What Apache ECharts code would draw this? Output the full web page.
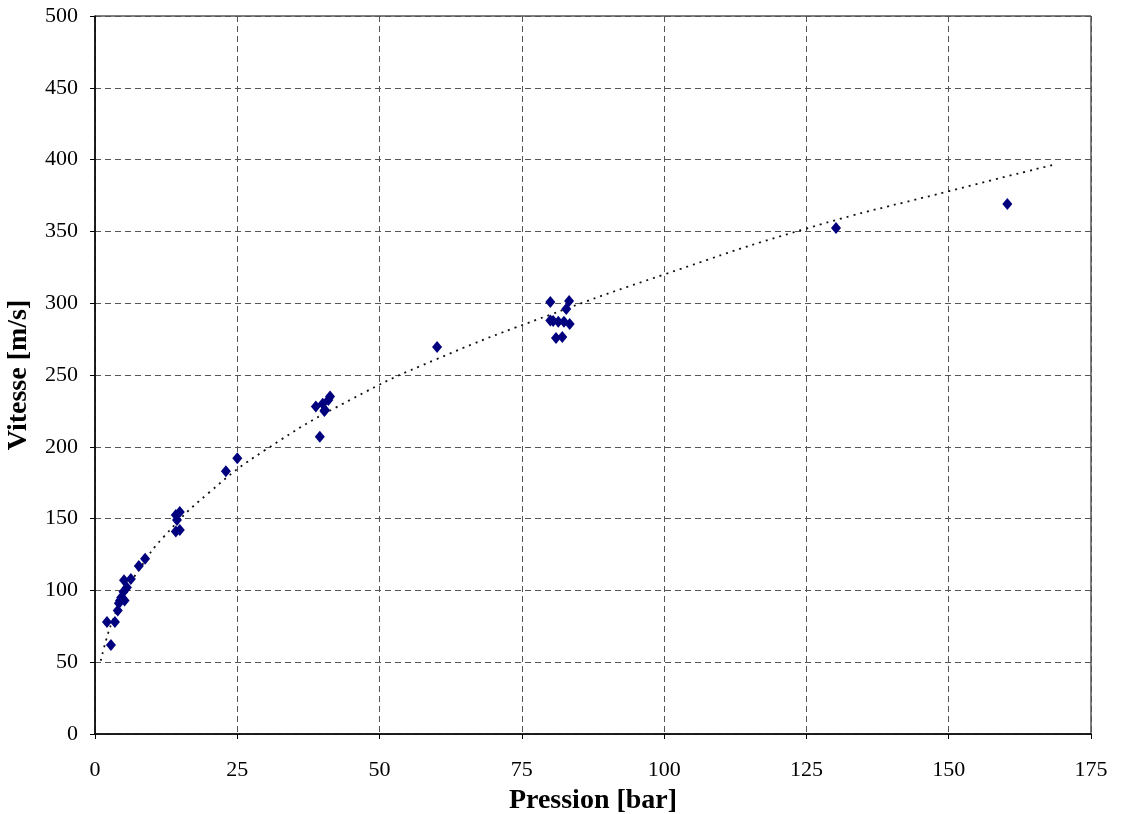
<!DOCTYPE html>
<html><head><meta charset="utf-8">
<script src="https://cdn.jsdelivr.net/npm/echarts@6/dist/echarts.min.js"></script>
<style>html,body{margin:0;padding:0;background:#fff}#c{width:1121px;height:814px}</style>
</head><body><div id="c"></div>
<script>
const xTicks = [0, 25, 50, 75, 100, 125, 150, 175];
const yTicks = [0, 50, 100, 150, 200, 250, 300, 350, 400, 450, 500];
const measuredPressure = [2.1, 3.5, 2.8, 4.0, 4.2, 4.6, 5.0, 5.1, 5.6, 4.4, 5.2, 6.3, 7.7, 8.8,
  14.2, 14.9, 14.4, 14.2, 14.9, 23.0, 25.0, 39.5, 38.8, 40.0, 40.4, 41.0, 41.3, 40.3, 60.1,
  80.0, 80.0, 80.5, 81.4, 82.8, 83.3, 82.4, 83.4, 81.0, 82.1, 130.2, 160.3];
const measuredSpeed = [78, 78, 62, 86, 91, 95, 99, 107, 102, 93, 93, 108, 117, 122,
  152.5, 154.6, 149, 141, 142, 183, 192, 207, 228, 230, 225.6, 232.6, 235, 225, 269.5,
  300.8, 288, 287.6, 287, 296, 301.5, 287, 285.5, 275.8, 276.5, 352.4, 369];
const trendPressure = [1, 2, 3, 5, 8, 12, 20, 30, 45, 60, 80, 100, 125, 150, 169];
const trendSpeed = [51, 66, 78, 96, 116, 137, 168, 198, 233, 261, 292, 320, 352, 378, 397];

const chart = echarts.init(document.getElementById('c'));
const font = 'Liberation Serif';
chart.setOption({
  animation: false,
  grid: {left: 95, right: 30, top: 16, bottom: 80, containLabel: false, outerBoundsMode: 'none',
    show: true, borderColor: '#000', borderWidth: 1},
  xAxis: {
    type: 'value', min: 0, max: 175, interval: 25,
    name: 'Pression [bar]', nameLocation: 'middle', nameGap: 53,
    nameTextStyle: {fontFamily: font, fontWeight: 'bold', fontSize: 28, color: '#000'},
    axisLine: {onZero: false, lineStyle: {color: '#000', width: 1.5}},
    axisTick: {show: true, inside: false, length: 5, lineStyle: {color: '#000'}},
    axisLabel: {fontFamily: font, fontSize: 22, color: '#000', margin: 25, formatter: v => xTicks.includes(v) ? String(v) : ''},
    splitLine: {show: true, lineStyle: {type: [6, 4], color: '#555', width: 1}}
  },
  yAxis: {
    type: 'value', min: 0, max: 500, interval: 50,
    name: 'Vitesse [m/s]', nameLocation: 'middle', nameGap: 62,
    nameTextStyle: {fontFamily: font, fontWeight: 'bold', fontSize: 28, color: '#000'},
    axisLine: {show: true, onZero: false, lineStyle: {color: '#000', width: 1.5}},
    axisTick: {show: true, inside: false, length: 5, lineStyle: {color: '#000'}},
    axisLabel: {fontFamily: font, fontSize: 22, color: '#000', margin: 17, formatter: v => yTicks.includes(v) ? String(v) : ''},
    splitLine: {show: true, lineStyle: {type: [6, 4], color: '#555', width: 1}}
  },
  series: [
    {
      type: 'line', data: trendPressure.map((x, i) => [x, trendSpeed[i]]),
      smooth: true, showSymbol: false, symbol: 'none',
      lineStyle: {color: '#111', width: 1.8, type: [2, 5]}, z: 1
    },
    {
      type: 'scatter', data: measuredPressure.map((x, i) => [x, measuredSpeed[i]]),
      symbol: 'diamond', symbolSize: [10, 12],
      itemStyle: {color: '#00007f', opacity: 1}, z: 3
    }
  ]
});
</script></body></html>
